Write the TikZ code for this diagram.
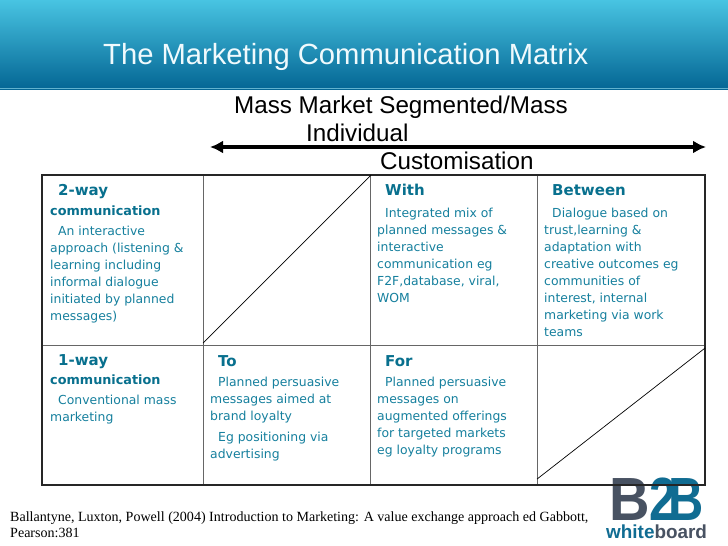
\documentclass[tikz,border=0pt]{standalone}
\usepackage{fontspec}
\usetikzlibrary{arrows.meta}
\setmainfont{Liberation Sans}
\newfontfamily\cellfont{DejaVu Sans}
\newfontfamily\refsfont{Liberation Serif}
\definecolor{bandtop}{RGB}{72,196,226}
\definecolor{bandmid}{RGB}{30,145,185}
\definecolor{bandlow}{RGB}{4,102,148}
\definecolor{celltxt}{RGB}{22,128,158}
\definecolor{cellhd}{RGB}{8,112,142}
\definecolor{logogray}{RGB}{72,82,98}
\definecolor{logoteal}{RGB}{16,108,146}
\newcommand{\cellhead}[1]{{\fontsize{15}{17}\selectfont\bfseries\color{cellhd}#1}}
\newcommand{\cellword}[1]{{\fontsize{12.8}{17}\selectfont\bfseries\color{cellhd}#1}}
\newcommand{\ind}{\hspace*{8pt}}
\tikzset{
    cellbox/.style={draw=black!60,line width=1.1pt,minimum width=167pt,inner sep=0pt},
    celltext/.style={anchor=north west,inner sep=0pt,align=left,text=celltxt,font=\cellfont\fontsize{12.4}{17}\selectfont},
    axislabel/.style={anchor=base west,inner sep=0pt,font=\fontsize{24.2}{26}\selectfont},
    logochar/.style={anchor=base west,inner sep=0pt,font=\fontsize{61}{61}\selectfont\bfseries}
}
\begin{document}
\begin{tikzpicture}[x=1pt,y=-1pt]
    \useasboundingbox (0,0) rectangle (728,546);
    \fill[white] (0,0) rectangle (728,546);

    \shade[top color=bandtop,middle color=bandmid,bottom color=bandlow] (0,0) rectangle (728,89);
    \fill[bandmid!70!white] (0,88.2) rectangle (728,89.4);
    \node[anchor=base west,inner sep=0pt,text=white!92!bandtop,font=\fontsize{29.2}{30}\selectfont] (title) at (103,64) {The Marketing Communication Matrix};

    \node[axislabel] (massmarket) at (234,113) {Mass Market Segmented/Mass};
    \node[axislabel] (individual) at (306,141) {Individual};
    \node[axislabel] (custom) at (380,169) {Customisation};
    \coordinate (axisleft) at (210,147);
    \coordinate (axisright) at (706,147);
    \draw[{Latex[length=13pt,width=13pt]}-{Latex[length=13pt,width=13pt]},line width=3.6pt] (axisleft)--(axisright);

    \node[logochar,text=logogray,xscale=0.92] (logob) at (609,520) {B};
    \node[logochar,text=logoteal,xscale=0.8] (logotwo) at (649,520) {2};
    \node[logochar,text=logoteal,xscale=0.8] (logoc) at (668,520) {B};
    \node[anchor=base west,inner sep=0pt,font=\fontsize{18.9}{20}\selectfont\bfseries] (logoword) at (606,538) {\textcolor{logoteal}{white}\textcolor{logogray}{board}};

    \node[cellbox,anchor=north west,minimum width=161pt,minimum height=170pt] (twoway) at (42,175) {};
    \node[cellbox,anchor=north west,minimum height=170pt] (emptya) at (203,175) {};
    \node[cellbox,anchor=north west,minimum height=170pt] (with) at (370,175) {};
    \node[cellbox,anchor=north west,minimum height=170pt] (between) at (537,175) {};
    \node[cellbox,anchor=north west,minimum width=161pt,minimum height=139pt] (oneway) at (42,345) {};
    \node[cellbox,anchor=north west,minimum height=139pt] (to) at (203,345) {};
    \node[cellbox,anchor=north west,minimum height=139pt] (for) at (370,345) {};
    \node[cellbox,anchor=north west,minimum height=139pt] (emptyb) at (537,345) {};

    \draw[line width=2pt,black!85] (twoway.north west) rectangle (emptyb.south east);
    \draw[line width=0.7pt] ([yshift=3pt]emptya.south west)--(emptya.north east);
    \draw[line width=0.7pt] ([yshift=6pt]emptyb.south west)--([yshift=-3pt]emptyb.north east);

    \node[celltext] (twowaytext) at (50,184) {\ind\cellhead{2-way}\\[3pt]\cellword{communication}\\[3pt]\ind An interactive\\approach (listening \&\\learning including\\informal dialogue\\initiated by planned\\messages)};
    \node[celltext] (withtext) at (377,184) {\ind\cellhead{With}\\[5pt]\ind Integrated mix of\\planned messages \&\\interactive\\communication eg\\F2F,database, viral,\\WOM};
    \node[celltext] (betweentext) at (544,184) {\ind\cellhead{Between}\\[5pt]\ind Dialogue based on\\trust,learning \&\\adaptation with\\creative outcomes eg\\communities of\\interest, internal\\marketing via work\\teams};
    \node[celltext] (onewaytext) at (50,354) {\ind\cellhead{1-way}\\[2pt]\cellword{communication}\\[3pt]\ind Conventional mass\\marketing};
    \node[celltext] (totext) at (210,355) {\ind\cellhead{To}\\[3pt]\ind Planned persuasive\\messages aimed at\\brand loyalty\\[4pt]\ind Eg positioning via\\advertising};
    \node[celltext] (fortext) at (377,355) {\ind\cellhead{For}\\[3pt]\ind Planned persuasive\\messages on\\augmented offerings\\for targeted markets\\eg loyalty programs};

    \node[anchor=north west,inner sep=0pt,align=left,font=\refsfont\fontsize{14.05}{16}\selectfont] (source) at (10,512) {Ballantyne, Luxton, Powell (2004) Introduction to Marketing: A value exchange approach ed Gabbott,\\Pearson:381};
\end{tikzpicture}
\end{document}
